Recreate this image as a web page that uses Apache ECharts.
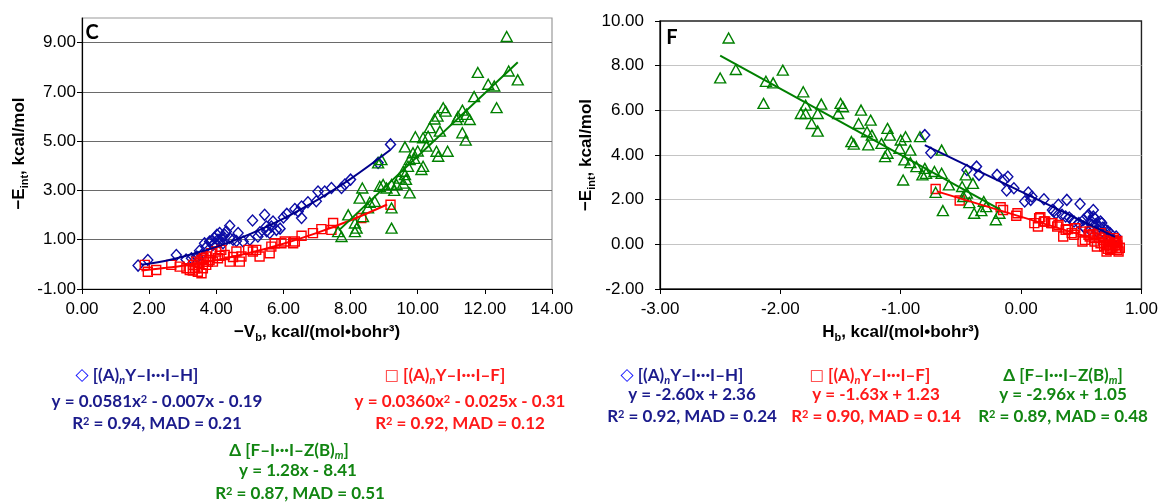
<!DOCTYPE html>
<html><head><meta charset="utf-8">
<script src="https://cdn.jsdelivr.net/npm/echarts@6/dist/echarts.min.js"></script>
<style>html,body{margin:0;padding:0;background:#fff}#c{width:1161px;height:502px}</style>
</head><body><div id="c"></div>
<script>
// ---------- Panel C : -Vb vs -Eint ----------
const vbBlue = [[1.67,-0.05],[1.96,0.18],[2.81,0.38],[3.26,0.25],[3.41,0.32],[3.56,0.38],[3.65,0.86],[3.80,0.93],[3.95,1.07],[4.02,1.20],[4.10,1.27],[4.20,1.13],[4.30,1.33],[4.40,1.57],[4.65,1.27],[4.40,1.07],[3.90,0.79],[4.20,0.86],[5.08,1.78],[5.44,2.01],[5.69,1.74],[5.49,1.54],[4.80,0.93],[5.00,1.00],[5.24,1.13],[5.59,1.27],[5.79,1.40],[5.64,1.54],[9.19,4.87],[8.82,4.12],[8.00,3.44],[7.83,3.24],[7.73,3.10],[7.43,3.10],[7.23,2.96],[7.03,2.96],[6.98,2.56],[6.73,2.52],[6.54,2.35],[6.44,2.15],[6.54,1.88],[6.34,2.25],[3.70,0.70],[3.85,0.95],[4.05,1.00],[4.15,1.05],[4.25,1.20],[4.10,0.90],[3.95,0.85],[4.50,1.00],[4.60,0.95],[3.45,0.30],[3.10,0.20],[5.30,1.30],[5.50,1.35],[6.10,2.05],[6.00,1.90],[3.50,0.55],[5.90,1.45]];
const vbRed = [[1.87,-0.02],[1.96,-0.30],[2.21,-0.23],[2.66,-0.02],[2.91,-0.09],[3.11,-0.16],[3.21,-0.23],[3.36,-0.16],[3.45,-0.30],[3.56,-0.36],[3.31,-0.02],[3.41,0.11],[3.56,0.18],[3.70,0.32],[3.85,0.45],[4.00,0.52],[4.15,0.59],[3.70,-0.02],[3.90,0.11],[4.05,0.25],[4.25,0.38],[4.40,0.11],[4.60,0.52],[4.75,0.32],[4.70,0.11],[4.95,0.59],[5.09,0.52],[5.29,0.32],[5.19,0.59],[5.59,0.45],[5.64,0.72],[5.74,0.86],[3.45,-0.09],[3.60,-0.16],[3.80,0.18],[9.19,2.42],[8.32,1.88],[7.48,1.68],[7.43,1.40],[7.13,1.43],[6.88,1.27],[6.54,1.16],[6.34,0.93],[6.29,0.86],[6.04,0.93],[5.94,0.86],[3.50,0.05],[3.62,0.25],[3.75,0.10],[4.10,0.35],[4.50,0.30],[3.30,-0.25]];
const vbGreen = [[12.65,9.25],[11.79,7.79],[12.10,7.31],[12.28,7.24],[12.71,7.85],[12.98,7.49],[12.35,6.36],[11.68,6.81],[10.76,6.36],[10.83,6.22],[10.59,6.02],[11.33,6.26],[11.45,6.09],[11.55,5.88],[11.16,5.88],[11.33,5.34],[11.43,5.04],[10.36,5.55],[10.31,5.20],[10.66,5.41],[9.93,5.18],[10.16,5.14],[10.26,4.80],[9.62,4.77],[10.89,4.59],[10.56,4.59],[10.61,4.39],[10.16,3.98],[10.11,3.85],[9.76,4.25],[9.86,4.53],[9.71,3.98],[9.62,3.64],[9.57,3.30],[9.37,3.24],[9.22,3.24],[9.07,3.10],[8.97,3.24],[8.87,3.17],[9.76,2.90],[9.22,2.29],[9.22,1.47],[8.92,4.25],[8.82,4.12],[8.35,3.10],[8.27,2.69],[8.57,2.52],[8.72,2.56],[8.52,2.29],[8.37,1.94],[7.93,2.01],[8.13,1.68],[8.18,1.47],[8.13,1.33],[7.73,1.13],[7.63,1.33],[9.57,3.78],[9.45,3.50],[9.65,3.45],[10.00,4.60],[10.50,5.90],[11.20,6.00],[9.30,3.00],[9.90,4.30]];
const vbBlueFit = [[1.77,-0.02],[2.5,0.15],[3,0.31],[4,0.71],[5,1.23],[6,1.86],[7,2.61],[8,3.47],[9.18,4.64]];
const vbRedFit = [[1.77,-0.25],[2.5,-0.14],[3,-0.06],[4,0.17],[5,0.47],[6,0.84],[7,1.28],[8,1.79],[9.09,2.43]];
const vbGreenFit = [[7.65,1.38],[12.98,8.20]];
// ---------- Panel F : Hb vs -Eint ----------
const hbBlue = [[-0.80,4.89],[-0.75,4.10],[-0.45,3.33],[-0.37,3.48],[-0.35,3.11],[-0.20,3.11],[-0.11,3.03],[-0.14,2.88],[-0.12,2.41],[-0.06,2.51],[0.03,1.92],[0.06,2.32],[0.09,2.14],[0.08,1.99],[0.19,2.02],[0.31,1.77],[0.38,1.99],[0.49,1.81],[0.60,1.54],[0.26,1.54],[0.29,1.39],[0.37,1.25],[0.44,1.02],[0.55,1.25],[0.61,1.17],[0.66,1.02],[0.52,0.80],[0.57,0.65],[0.63,0.58],[0.69,0.50],[0.74,0.32],[0.27,1.47],[0.34,1.32],[0.42,1.10],[0.52,1.10],[0.67,0.95],[0.59,0.87],[0.53,0.72],[0.64,0.65],[0.70,0.65],[0.74,0.50],[0.79,0.35],[0.56,1.32],[0.60,1.24],[0.62,0.90],[0.65,0.80],[0.58,1.05],[0.68,0.75],[0.72,0.60],[0.48,0.95],[0.40,1.20]];
const hbRed = [[-0.71,2.48],[-0.51,1.96],[-0.17,1.66],[-0.15,1.54],[-0.03,1.39],[-0.04,1.28],[0.15,1.17],[0.11,0.95],[0.14,0.80],[0.19,1.02],[0.25,0.95],[0.30,0.80],[0.39,0.68],[0.35,0.35],[0.44,0.43],[0.51,0.13],[0.57,0.35],[0.61,0.13],[0.57,0.58],[0.66,0.50],[0.69,-0.09],[0.72,0.13],[0.75,-0.17],[0.78,0.05],[0.80,-0.24],[0.77,0.28],[0.71,-0.32],[0.16,1.22],[0.20,1.02],[0.26,0.95],[0.31,0.87],[0.37,0.65],[0.42,0.50],[0.50,0.57],[0.56,0.43],[0.61,0.28],[0.66,0.05],[0.71,-0.02],[0.74,-0.24],[0.79,-0.17],[0.81,-0.32],[0.77,0.20],[0.70,0.35],[0.45,0.72],[0.53,0.20],[0.63,-0.10],[0.78,-0.02],[0.73,0.00],[0.76,-0.10],[0.80,-0.05],[0.74,0.10],[0.68,0.20],[0.79,0.10],[0.72,-0.20],[0.80,0.15],[0.65,0.30],[0.60,0.45],[0.82,-0.15]];
const hbGreen = [[-2.43,9.24],[-2.50,7.45],[-2.37,7.83],[-1.98,7.80],[-2.12,7.30],[-2.06,7.23],[-2.14,6.31],[-1.81,6.83],[-1.79,6.23],[-1.83,5.86],[-1.79,5.86],[-1.74,5.41],[-1.69,5.07],[-1.69,5.86],[-1.66,6.28],[-1.52,5.86],[-1.50,6.31],[-1.48,6.16],[-1.33,6.01],[-1.35,5.41],[-1.25,5.56],[-1.28,5.04],[-1.24,4.89],[-1.27,4.45],[-1.41,4.60],[-1.39,4.49],[-1.11,5.19],[-1.09,4.89],[-1.16,4.52],[-1.00,4.67],[-0.96,4.82],[-1.01,4.30],[-0.92,4.22],[-0.97,3.78],[-1.13,3.93],[-1.11,4.08],[-0.92,3.66],[-0.87,3.48],[-0.80,3.40],[-0.79,3.18],[-0.82,3.11],[-0.72,3.26],[-0.66,3.18],[-0.98,2.88],[-0.84,4.82],[-0.66,4.22],[-0.71,2.33],[-0.60,2.66],[-0.49,2.59],[-0.46,3.11],[-0.40,2.73],[-0.45,2.29],[-0.43,1.87],[-0.31,1.92],[-0.33,1.51],[-0.39,1.39],[-0.29,1.69],[-0.21,1.10],[-0.18,1.39],[-0.65,1.51],[-0.48,2.14]];
const hbBlueFit = [[-0.80,4.44],[0.78,0.33]];
const hbRedFit = [[-0.70,2.37],[0.80,-0.07]];
const hbGreenFit = [[-2.50,8.45],[-0.18,1.58]];
// ---------- axis ticks ----------
const vbTicks = {min:0, max:14, interval:2};
const eTicksC = {min:-1, max:10, interval:2};
const hbTicks = {min:-3, max:1, interval:1};
const eTicksF = {min:-2, max:10, interval:2};

const BLUE='#0c0ca6', BLUE_L='#00008b', RED='#ff0000', GREEN='#008000';
const TXT_B='#1b1b8c', TXT_R='#ff1a1a', TXT_G='#118511';
const AF='"Liberation Sans", Arial, sans-serif';
const LF='Lato, "Open Sans", sans-serif';

function nameStyle(){
  return {fontFamily:AF, fontWeight:'bold', fontSize:17, color:'#000',
    rich:{b:{fontFamily:AF, fontWeight:'bold', fontSize:17, color:'#000', lineHeight:22},
          s:{fontFamily:AF, fontWeight:'bold', fontSize:11, color:'#000', lineHeight:11, verticalAlign:'bottom'}}};
}
function fmt(hide){ return v => (hide!==undefined && Math.abs(v-hide)<1e-9) ? '' : v.toFixed(2); }
function xAx(idx, t, name, gridColor){
  return {gridIndex:idx, type:'value', min:t.min, max:t.max, interval:t.interval,
    name:name, nameLocation:'middle', nameGap:32, nameTextStyle:nameStyle(),
    axisLine:{show:true, onZero:false, lineStyle:{color:'#000', width:1.2}},
    axisTick:{show:true, length:5, lineStyle:{color:'#000'}},
    axisLabel:{fontFamily:AF, fontSize:17, color:'#000', margin:12, formatter:fmt()},
    splitLine:{show:false}};
}
function yAx(idx, t, hide, gridColor, margin){
  return {gridIndex:idx, type:'value', min:t.min, max:t.max, interval:t.interval,
    name:'{b|−E}{s|int}{b|, kcal/mol}', nameLocation:'middle', nameGap:52, nameRotate:90, nameTextStyle:nameStyle(),
    axisLine:{show:true, onZero:false, lineStyle:{color:'#000', width:1.2}},
    axisTick:{show:true, length:5, lineStyle:{color:'#000'}},
    axisLabel:{fontFamily:AF, fontSize:17, color:'#000', margin:margin, formatter:fmt(hide), showMaxLabel: hide===undefined},
    splitLine:{show:true, showMaxLine:false, lineStyle:{color:gridColor, width:1.2}}};
}
function sc(xi, data, sym, size, color){
  return {type:'scatter', xAxisIndex:xi, yAxisIndex:xi, data:data, symbol:sym, symbolSize:size,
    itemStyle:{color:'rgba(0,0,0,0)', borderColor:color, borderWidth:1.4, opacity:1}, z:2, silent:true, animation:false};
}
function ln(xi, data, color, smooth){
  return {type:'line', xAxisIndex:xi, yAxisIndex:xi, data:data, showSymbol:false, smooth:smooth?0.4:false,
    lineStyle:{color:color, width:2}, z:4, silent:true, animation:false};
}
function lg(x, y, text, color){
  return {type:'text', x:x, y:y, silent:true, style:{text:text, fill:color, align:'center', verticalAlign:'middle',
    font:'bold 17px '+LF,
    rich:{
      i:{font:'italic bold 11px '+LF, fill:color, verticalAlign:'bottom', lineHeight:12},
      p:{font:'bold 11px '+LF, fill:color, verticalAlign:'top', lineHeight:12},
      d:{font:'17px "DejaVu Sans"', fill:'#1010ff', lineHeight:20},
      q:{font:'15px "DejaVu Sans"', fill:'#ff2020', lineHeight:20},
      t:{font:'bold 17px '+LF, fill:'#118511', lineHeight:20}
    }}};
}

const chart = echarts.init(document.getElementById('c'));
chart.setOption({
  animation:false,
  backgroundColor:'#fff',
  grid:[
    {left:82, top:18, width:470, height:271, show:true, borderColor:'#9a9a9a', borderWidth:1.2, backgroundColor:'transparent'},
    {left:660, top:21, width:483, height:268, show:true, borderColor:'#222', borderWidth:1.4, backgroundColor:'transparent'}
  ],
  xAxis:[
    xAx(0, vbTicks, '{b|−V}{s|b}{b|, kcal/(mol•bohr³)}'),
    xAx(1, hbTicks, '{b|H}{s|b}{b|, kcal/(mol•bohr³)}')
  ],
  yAxis:[
    yAx(0, eTicksC, 10, '#6a6a6a', 6),
    yAx(1, eTicksF, undefined, '#c4c4c4', 16)
  ],
  series:[
    sc(0, vbBlue, 'diamond', [10,11], BLUE),
    sc(0, vbRed, 'rect', [9,9], RED),
    sc(0, vbGreen, 'triangle', [11,10], GREEN),
    ln(0, vbBlueFit, BLUE_L, true),
    ln(0, vbRedFit, RED, true),
    ln(0, vbGreenFit, GREEN, false),
    sc(1, hbBlue, 'diamond', [10,11], BLUE),
    sc(1, hbRed, 'rect', [9,9], RED),
    sc(1, hbGreen, 'triangle', [11,10], GREEN),
    ln(1, hbBlueFit, BLUE_L, false),
    ln(1, hbRedFit, RED, false),
    ln(1, hbGreenFit, GREEN, false)
  ],
  graphic:[
    {type:'text', x:92, y:33, silent:true, style:{text:'C', font:'bold 20px '+LF, fill:'#000', align:'center', verticalAlign:'middle'}},
    {type:'text', x:672, y:38, silent:true, style:{text:'F', font:'bold 20px '+LF, fill:'#000', align:'center', verticalAlign:'middle'}},
    lg(137,376,'{d|◇} [(A){i|n}Y–I···I–H]', TXT_B),
    lg(157,402,'y = 0.0581x{p|2} - 0.007x - 0.19', TXT_B),
    lg(157,424,'R{p|2} = 0.94, MAD = 0.21', TXT_B),
    lg(445,376,'{q|□} [(A){i|n}Y–I···I–F]', TXT_R),
    lg(460,402,'y = 0.0360x{p|2} - 0.025x - 0.31', TXT_R),
    lg(460,424,'R{p|2} = 0.92, MAD = 0.12', TXT_R),
    lg(289,451,'{t|Δ} [F–I···I–Z(B){i|m}]', TXT_G),
    lg(298,471,'y = 1.28x - 8.41', TXT_G),
    lg(300,494,'R{p|2} = 0.87, MAD = 0.51', TXT_G),
    lg(682,376,'{d|◇} [(A){i|n}Y–I···I–H]', TXT_B),
    lg(692,395,'y = -2.60x + 2.36', TXT_B),
    lg(692,417,'R{p|2} = 0.92, MAD = 0.24', TXT_B),
    lg(870,376,'{q|□} [(A){i|n}Y–I···I–F]', TXT_R),
    lg(876,395,'y = -1.63x + 1.23', TXT_R),
    lg(876,417,'R{p|2} = 0.90, MAD = 0.14', TXT_R),
    lg(1063,376,'{t|Δ} [F–I···I–Z(B){i|m}]', TXT_G),
    lg(1063,395,'y = -2.96x + 1.05', TXT_G),
    lg(1063,417,'R{p|2} = 0.89, MAD = 0.48', TXT_G)
  ]
});
</script></body></html>
